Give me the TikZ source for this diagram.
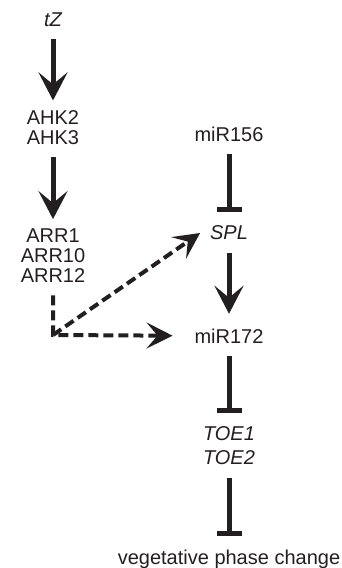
\documentclass[tikz,border=0pt]{standalone}
\usepackage{fontspec}
\setmainfont{Liberation Sans}
\usepackage{tikz}
\usetikzlibrary{arrows.meta}
\definecolor{ink}{HTML}{231F20}

\begin{document}
\begin{tikzpicture}[x=1pt, y=-1pt,
    gene/.style={inner sep=0pt, outer sep=10pt, align=center, text=ink,
        font=\fontsize{20}{20}\selectfont},
    act/.style={draw=ink, line width=5pt, shorten <=2.5pt,
        -{Stealth[length=28pt, width=29pt, inset=12pt]}},
    inhib/.style={draw=ink, line width=5pt, shorten <=2.5pt, shorten >=4pt,
        -{Bar[width=25pt]}},
    maybe/.style={draw=ink, line width=4pt, dash pattern=on 10pt off 5pt,
        shorten <=2.5pt, -{Stealth[length=26pt, width=26pt, inset=11pt]}}]
\useasboundingbox (0,0) rectangle (342,568);

% Cytokinin branch
\node[gene] (tz)  at (53,20)    {\itshape tZ};
\node[gene] (ahk) at (53,127.5) {AHK2\\AHK3};
\node[gene] (arr) at (53,256)   {ARR1\\ARR10\\ARR12};
\coordinate (bend) at (53,335);

% Age pathway
\node[gene] (mir156) at (229,134) {miR156};
\node[gene] (spl)    at (229,233) {\itshape SPL};
\node[gene] (mir172) at (229,336) {miR172};
\node[gene] (toe)    at (229,446) {\itshape TOE1\\[4pt]\itshape TOE2};
\node[gene, anchor=base] (veg) at (229,564) {vegetative phase change};

% Activation
\draw[act] (tz) -- (ahk);
\draw[act] (ahk) -- (arr);
\draw[act, shorten >=5pt] (spl) -- (mir172);

% Repression
\foreach \a/\b in {mir156/spl, mir172/toe, toe/veg} {
    \draw[inhib] (\a) -- (\b);
}

% Proposed links
\draw[maybe, shorten >=12pt] (arr) -- (bend) -- (mir172);
\draw[maybe, shorten <=0pt] (bend) -- (spl.west);
\end{tikzpicture}
\end{document}
